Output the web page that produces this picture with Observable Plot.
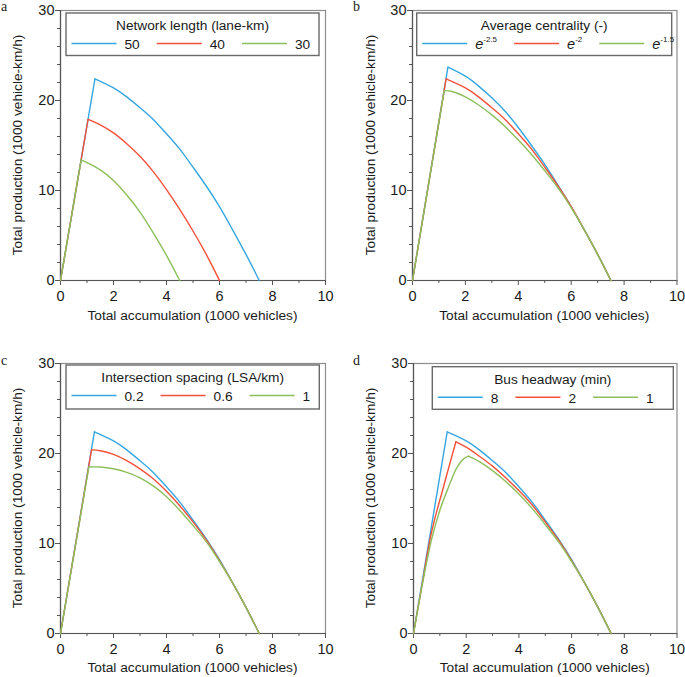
<!DOCTYPE html>
<html><head><meta charset="utf-8">
<script src="https://cdn.jsdelivr.net/npm/d3@7"></script>
<script src="https://cdn.jsdelivr.net/npm/@observablehq/plot@0.6"></script>
<style>
html,body{margin:0;padding:0;background:#fff;}
#root{position:relative;width:685px;height:677px;overflow:hidden;}
#root svg{position:absolute;}
</style></head><body><div id="root"></div>
<script>
// ---------- shared ----------
const xMajor = [0, 2, 4, 6, 8, 10];
const xMinor = [1, 3, 5, 7, 9];
const yMajor = [0, 10, 20, 30];
const yMinor = [2, 4, 6, 8, 12, 14, 16, 18, 22, 24, 26, 28];
const colors = ["#35a7e0", "#f4503a", "#8cbf5b"];
const xTitle = "Total accumulation (1000 vehicles)";
const yTitle = "Total production (1000 vehicle-km/h)";

// ---------- panel a ----------
const aTitle = "Network length (lane-km)";
const aKeys = ["50", "40", "30"];
const aRise = [
  [[0, 0], [1.3, 22.4]],
  [[0, 0], [1.04, 17.9]],
  [[0, 0], [0.78, 13.4]]
];
const aFall = [
  [[1.3, 22.4], [2, 21.4], [2.5, 20.4], [3, 19.2], [3.5, 17.9], [4, 16.3], [4.5, 14.6], [5, 12.6], [5.5, 10.5], [6, 8.2], [6.5, 5.6], [7, 2.9], [7.5, 0]],
  [[1.04, 17.9], [1.5, 17.3], [2, 16.4], [2.5, 15.2], [3, 13.8], [3.5, 12.1], [4, 10.1], [4.5, 7.9], [5, 5.5], [5.5, 2.9], [6, 0]],
  [[0.78, 13.4], [1, 13.1], [1.5, 12.3], [2, 11.1], [2.5, 9.5], [3, 7.6], [3.5, 5.3], [4, 2.8], [4.5, 0]]
];

// ---------- panel b ----------
const bTitle = "Average centrality (-)";
const bKeys = ["-2.5", "-2", "-1.5"]; // exponents of e
const bRise = [
  [[0, 0], [1.34, 23.7]],
  [[0, 0], [1.27, 22.4]],
  [[0, 0], [1.2, 21.1]]
];
const bFall = [
  [[1.34, 23.7], [2, 22.7], [2.5, 21.6], [3, 20.3], [3.5, 18.8], [4, 17.0], [4.5, 15.0], [5, 12.9], [5.5, 10.6], [6, 8.2], [6.5, 5.6], [7, 2.9], [7.5, 0]],
  [[1.27, 22.4], [2, 21.4], [2.5, 20.4], [3, 19.2], [3.5, 17.9], [4, 16.3], [4.5, 14.6], [5, 12.6], [5.5, 10.5], [6, 8.2], [6.5, 5.6], [7, 2.9], [7.5, 0]],
  [[1.2, 21.1], [1.5, 21.0], [2, 20.4], [2.5, 19.5], [3, 18.4], [3.5, 17.1], [4, 15.6], [4.5, 14.0], [5, 12.2], [5.5, 10.3], [6, 8.1], [6.5, 5.6], [7, 2.9], [7.5, 0]]
];

// ---------- panel c ----------
const cTitle = "Intersection spacing (LSA/km)";
const cKeys = ["0.2", "0.6", "1"];
const cRise = [
  [[0, 0], [1.28, 22.4]],
  [[0, 0], [1.17, 20.4]],
  [[0, 0], [1.07, 18.5]]
];
const cFall = [
  [[1.28, 22.4], [2, 21.4], [2.5, 20.4], [3, 19.2], [3.5, 17.9], [4, 16.3], [4.5, 14.6], [5, 12.6], [5.5, 10.5], [6, 8.2], [6.5, 5.6], [7, 2.9], [7.5, 0]],
  [[1.17, 20.4], [1.5, 20.3], [2, 19.9], [2.5, 19.2], [3, 18.3], [3.5, 17.2], [4, 15.8], [4.5, 14.2], [5, 12.4], [5.5, 10.4], [6, 8.1], [6.5, 5.6], [7, 2.9], [7.5, 0]],
  [[1.07, 18.5], [1.5, 18.5], [2, 18.3], [2.5, 17.9], [3, 17.3], [3.5, 16.4], [4, 15.2], [4.5, 13.7], [5, 12.0], [5.5, 10.2], [6, 8.0], [6.5, 5.6], [7, 2.9], [7.5, 0]]
];

// ---------- panel d ----------
const dTitle = "Bus headway (min)";
const dKeys = ["8", "2", "1"];
const dRise = [
  [[0, 0], [1.28, 22.4]],
  [[0, 0], [0.3, 5.0], [0.63, 10.5], [1.13, 16.2], [1.61, 21.3]],
  [[0, 0], [0.3, 4.9], [0.69, 10.5], [1.0, 13.7], [1.32, 16.2], [1.64, 18.4], [1.9, 19.4], [2.08, 19.7]]
];
const dFall = [
  [[1.28, 22.4], [2, 21.4], [2.5, 20.4], [3, 19.2], [3.5, 17.9], [4, 16.3], [4.5, 14.6], [5, 12.6], [5.5, 10.5], [6, 8.2], [6.5, 5.6], [7, 2.9], [7.5, 0]],
  [[1.61, 21.3], [2, 20.7], [2.5, 19.7], [3, 18.6], [3.5, 17.3], [4, 15.9], [4.5, 14.3], [5, 12.4], [5.5, 10.4], [6, 8.1], [6.5, 5.6], [7, 2.9], [7.5, 0]],
  [[2.08, 19.7], [2.5, 19.1], [3, 18.1], [3.5, 16.9], [4, 15.5], [4.5, 13.9], [5, 12.1], [5.5, 10.2], [6, 8.0], [6.5, 5.6], [7, 2.9], [7.5, 0]]
];

const root = document.getElementById("root");
const SANS = "'Liberation Sans', Arial, sans-serif";

function drawPanel(p) {
  const riseRows = [], fallRows = [];
  p.keys.forEach((k, i) => {
    p.rise[i].forEach(([x, y]) => riseRows.push({k, x, y}));
    p.fall[i].forEach(([x, y]) => fallRows.push({k, x, y}));
  });
  const svg = Plot.plot({
    width: p.w, height: p.h,
    marginLeft: p.ml, marginRight: p.mr, marginTop: p.mt, marginBottom: p.mb,
    style: {fontFamily: SANS, fontSize: "14.5px", color: "#1a1a1a", background: "transparent", overflow: "visible"},
    x: {domain: [0, 10]},
    y: {domain: [0, 30]},
    color: {type: "ordinal", domain: p.keys, range: colors},
    marks: [
      Plot.frame({stroke: "#8c8c8c", strokeWidth: 1.2}),
      Plot.axisX({ticks: xMajor, tickSize: 5, tickPadding: 5, label: null, stroke: "#555", fill: "#1a1a1a"}),
      Plot.axisX({ticks: xMinor, tickSize: 3, tickFormat: () => "", label: null, stroke: "#555"}),
      Plot.axisY({ticks: yMajor, tickSize: 5, tickPadding: 1, label: null, stroke: "#555", fill: "#1a1a1a"}),
      Plot.axisY({ticks: yMinor, tickSize: 3, tickFormat: () => "", label: null, stroke: "#555"}),
      Plot.ruleX([0], {stroke: "#555", strokeWidth: 1.2}),
      Plot.ruleY([0], {stroke: "#555", strokeWidth: 1.2}),
      Plot.line(riseRows, {x: "x", y: "y", z: "k", stroke: "k", strokeWidth: 1.4, curve: "monotone-x"}),
      Plot.line(fallRows, {x: "x", y: "y", z: "k", stroke: "k", strokeWidth: 1.4, curve: "natural"})
    ]
  });
  svg.style.left = p.left + "px";
  svg.style.top = p.top + "px";
  root.appendChild(svg);
  const s = d3.select(svg);

  // panel letter
  s.append("text").attr("x", p.letterX).attr("y", p.letterY).attr("text-anchor", "start")
    .attr("font-family", "'Liberation Serif', 'Times New Roman', serif").attr("font-size", 14)
    .attr("fill", "#1a1a1a").text(p.letter);

  // axis titles
  const plotCx = p.ml + (p.w - p.ml - p.mr) / 2;
  const plotCy = p.mt + (p.h - p.mt - p.mb) / 2;
  s.append("text").attr("x", plotCx).attr("y", p.xTitleY).attr("text-anchor", "middle")
    .attr("font-family", SANS).attr("font-size", 13.7).attr("fill", "#1a1a1a").text(xTitle);
  s.append("text").attr("transform", `translate(${p.yTitleX},${plotCy}) rotate(-90)`).attr("text-anchor", "middle")
    .attr("font-family", SANS).attr("font-size", 13.7).attr("fill", "#1a1a1a").text(yTitle);

  // legend
  const g = s.append("g").attr("font-family", SANS).attr("font-size", 13.7).attr("fill", "#1a1a1a");
  g.append("rect").attr("x", p.bx).attr("y", p.by).attr("width", p.bw).attr("height", p.bh)
    .attr("fill", "#fff").attr("stroke", "#6a6a6a").attr("stroke-width", 1.4);
  g.append("text").attr("x", p.bx + p.bw / 2).attr("y", p.by + 17).attr("text-anchor", "middle").text(p.title);
  let cx = p.bx + 5.5;
  p.keys.forEach((k, i) => {
    g.append("line").attr("x1", cx).attr("x2", cx + 45).attr("y1", p.by + 30.5).attr("y2", p.by + 30.5)
      .attr("stroke", colors[i]).attr("stroke-width", 1.6);
    const t = g.append("text").attr("x", cx + 53).attr("y", p.by + 36).attr("text-anchor", "start");
    if (p.exp) {
      t.append("tspan").attr("font-style", "italic").attr("font-size", 14.5).text("e");
      t.append("tspan").attr("dy", -7.5).attr("font-size", 8).text(k);
    } else {
      t.text(k);
    }
    const w = t.node().getComputedTextLength();
    cx += 53 + w + 17;
  });
}

drawPanel({letter: "a", left: 0, top: 0, w: 342, h: 340, ml: 60, mr: 17, mt: 10, mb: 60,
  keys: aKeys, rise: aRise, fall: aFall, title: aTitle, exp: false,
  letterX: 1, letterY: 11, xTitleY: 319.5, yTitleX: 22,
  bx: 66, by: 13, bw: 253, bh: 42.5});
drawPanel({letter: "b", left: 343, top: 0, w: 342, h: 340, ml: 69, mr: 8.5, mt: 10, mb: 60,
  keys: bKeys, rise: bRise, fall: bFall, title: bTitle, exp: true,
  letterX: 10, letterY: 11, xTitleY: 319.5, yTitleX: 32,
  bx: 73.7, by: 13, bw: 255, bh: 42.5});
drawPanel({letter: "c", left: 0, top: 340, w: 342, h: 337, ml: 60, mr: 17, mt: 23, mb: 44,
  keys: cKeys, rise: cRise, fall: cFall, title: cTitle, exp: false,
  letterX: 1, letterY: 25, xTitleY: 331.5, yTitleX: 22,
  bx: 66, by: 25, bw: 253.3, bh: 44});
drawPanel({letter: "d", left: 343, top: 340, w: 342, h: 337, ml: 70, mr: 8.5, mt: 23, mb: 44,
  keys: dKeys, rise: dRise, fall: dFall, title: dTitle, exp: false,
  letterX: 10, letterY: 25, xTitleY: 331.5, yTitleX: 32,
  bx: 89.3, by: 26.7, bw: 241, bh: 42.6});
</script>
</body></html>
